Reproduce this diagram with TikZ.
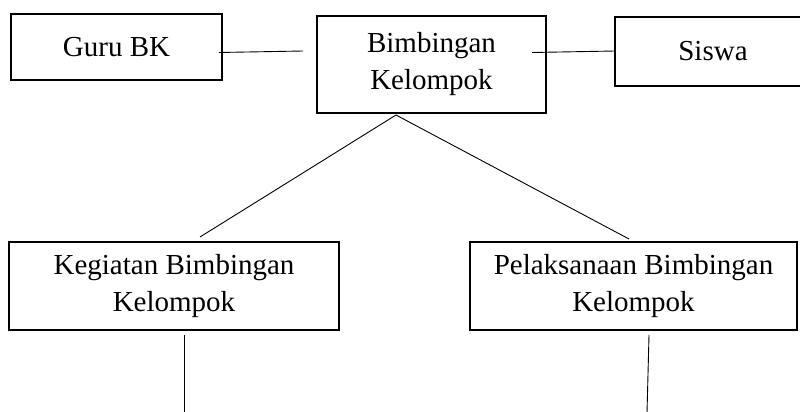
\documentclass[tikz,border=0pt]{standalone}
\usepackage{fontspec}
\setmainfont{Liberation Serif}
\begin{document}
\begin{tikzpicture}[x=1pt,y=-1pt,
  boxnode/.style={draw,line width=2pt,rectangle,align=center,inner sep=0pt,
    font=\fontsize{29}{37}\selectfont},
  link/.style={line width=0.9pt}]
\useasboundingbox (0,0) rectangle (800,412);
\node[boxnode,minimum width=211pt,minimum height=65pt] (guru) at (116.5,47) {Guru BK};
\node[boxnode,minimum width=229pt,minimum height=96pt] (bim) at (431.5,64.5) {Bimbingan\\Kelompok};
\node[boxnode,minimum width=196pt,minimum height=69pt] (siswa) at (713,51.5) {Siswa};
\node[boxnode,minimum width=330pt,minimum height=88pt] (keg) at (174,286) {Kegiatan Bimbingan\\Kelompok};
\node[boxnode,minimum width=327pt,minimum height=88pt] (pel) at (633.5,286) {Pelaksanaan Bimbingan\\Kelompok};
\coordinate (g1) at (219,52.5);
\coordinate (g2) at (303,51);
\coordinate (s1) at (532,52.5);
\coordinate (s2) at (615,51);
\coordinate (apex) at (396,115);
\coordinate (k1) at (200,237);
\coordinate (p1) at (629,239);
\coordinate (kb1) at (184,335);
\coordinate (kb2) at (184,413);
\coordinate (pb1) at (649,335);
\coordinate (pb2) at (647,413);
\draw[link] (g1) -- (g2);
\draw[link] (s1) -- (s2);
\draw[link] (apex) -- (k1);
\draw[link] (apex) -- (p1);
\draw[link] (kb1) -- (kb2);
\draw[link] (pb1) -- (pb2);
\end{tikzpicture}
\end{document}
